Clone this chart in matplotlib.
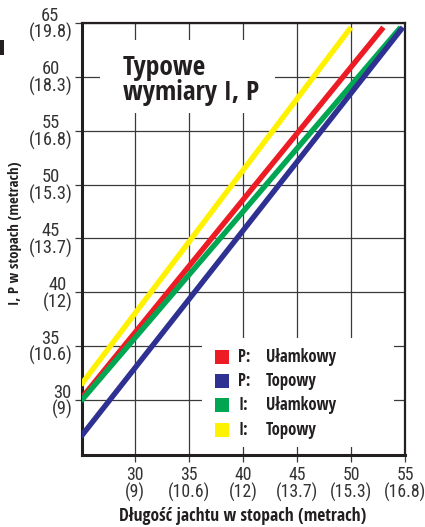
import matplotlib
matplotlib.use("Agg")
import matplotlib.pyplot as plt
from matplotlib.patches import Rectangle

# ---- data ----
x_ticks_ft = [30, 35, 40, 45, 50, 55]
x_ticks_m = ["9", "10.6", "12", "13.7", "15.3", "16.8"]
y_ticks_ft = [30, 35, 40, 45, 50, 55, 60, 65]
y_ticks_m = ["9", "10.6", "12", "13.7", "15.3", "16.8", "18.3", "19.8"]

series_names = ["P: Ułamkowy", "P: Topowy", "I: Ułamkowy", "I: Topowy"]
series_prefix = ["P:", "P:", "I:", "I:"]
series_type = ["Ułamkowy", "Topowy", "Ułamkowy", "Topowy"]
series_colors = ["#ED1C24", "#2E3192", "#00A651", "#FFF200"]
# yacht length (ft) at start/end of each line and corresponding I/P (ft)
length_p_ulamkowy = [25.0, 53.0]
value_p_ulamkowy = [30.1, 64.6]
length_p_topowy = [25.0, 54.8]
value_p_topowy = [26.6, 64.6]
length_i_ulamkowy = [25.0, 54.6]
value_i_ulamkowy = [29.9, 64.6]
length_i_topowy = [25.0, 50.0]
value_i_topowy = [31.4, 64.6]

series_x = [length_p_ulamkowy, length_p_topowy, length_i_ulamkowy, length_i_topowy]
series_y = [value_p_ulamkowy, value_p_topowy, value_i_ulamkowy, value_i_topowy]

title_text = "Typowe\nwymiary I, P"
x_label = "Długość jachtu w stopach (metrach)"
y_label = "I, P w stopach (metrach)"

# ---- fonts ----
TICK_FONT = ["Roboto Condensed", "DejaVu Sans"]
BOLD_FONT = ["Open Sans Condensed", "PT Sans Narrow", "DejaVu Sans"]
INK = "#231F20"

fig = plt.figure(figsize=(4.25, 5.27), dpi=100)
ax = fig.add_axes([82 / 425, 72 / 527, 323 / 425, 432 / 527])

ax.set_xlim(25.1, 55)
ax.set_ylim(24.9, 65)

# draw lines (yellow first so order matches stacking)
order = [3, 0, 2, 1]
for i in order:
    ax.plot(series_x[i], series_y[i], color=series_colors[i], lw=3.9,
            solid_capstyle="butt", zorder=3)

# ticks & labels
ax.set_xticks(x_ticks_ft)
ax.set_xticklabels([f"{a}\n({b})" for a, b in zip(x_ticks_ft, x_ticks_m)])
ax.set_yticks(y_ticks_ft)
ax.set_yticklabels([f"{a}\n({b})" for a, b in zip(y_ticks_ft, y_ticks_m)])
ax.tick_params(axis="both", direction="out", length=5, width=0.9,
               color="#3a3a3a", labelsize=13.3, labelcolor="#333333")
ax.tick_params(axis="x", pad=3, labelsize=12.8)
ax.tick_params(axis="y", pad=2)
for lab in ax.get_xticklabels() + ax.get_yticklabels():
    lab.set_family(TICK_FONT)
    lab.set_multialignment("center")
    lab.set_linespacing(0.9)

# grid
ax.set_axisbelow(True)
ax.grid(True, color="#3a3a3a", lw=0.9)

# spines
for side in ["left", "bottom"]:
    ax.spines[side].set_linewidth(2.2)
    ax.spines[side].set_color(INK)
for side in ["top", "right"]:
    ax.spines[side].set_linewidth(1.6)
    ax.spines[side].set_color(INK)

# title box and title
ax.add_patch(Rectangle((0.056, 0.792), 0.542, 0.169, transform=ax.transAxes,
                       facecolor="white", edgecolor="none", zorder=1))
ax.text(0.127, 0.822, title_text, transform=ax.transAxes, ha="left",
        va="baseline", fontsize=19.7, fontweight="bold", family=BOLD_FONT,
        color=INK, linespacing=0.88, zorder=4)

# legend box and entries
ax.add_patch(Rectangle((0.372, 0.0185), 0.594, 0.2525, transform=ax.transAxes,
                       facecolor="white", edgecolor="none", zorder=1))
leg_y0 = 0.227
leg_step = 0.0562
for k in range(len(series_names)):
    yy = leg_y0 - k * leg_step
    ax.add_patch(Rectangle((0.412, yy - 0.0162), 0.0433, 0.0324,
                           transform=ax.transAxes, facecolor=series_colors[k],
                           edgecolor="none", zorder=4))
    ax.text(0.483, yy, series_prefix[k], transform=ax.transAxes, ha="left",
            va="center", fontsize=12, fontweight="bold", family=BOLD_FONT,
            color=INK, zorder=4)
    ax.text(0.570, yy, series_type[k], transform=ax.transAxes, ha="left",
            va="center", fontsize=12, fontweight="bold", family=BOLD_FONT,
            color=INK, zorder=4)

# axis labels
fig.text(243 / 425, 1 - 516 / 527, x_label, ha="center", va="center",
         fontsize=12.6, fontweight="bold", family=BOLD_FONT, color=INK)
fig.text(15 / 425, 1 - 233 / 527, y_label, ha="center", va="center",
         rotation=90, fontsize=10.6, fontweight="bold", family=BOLD_FONT,
         color=INK)

# stray fragment at top-left edge
fig.patches.append(Rectangle((0, 1 - 55 / 527), 4 / 425, 15 / 527,
                             transform=fig.transFigure, facecolor=INK,
                             edgecolor="none"))

fig.savefig("out.png", dpi=100)
